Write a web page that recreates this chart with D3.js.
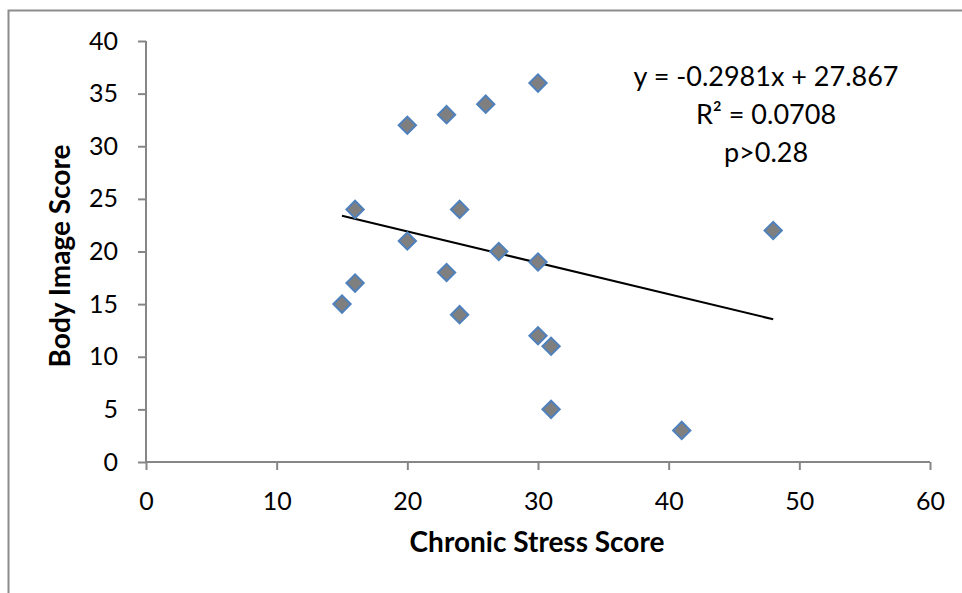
<!DOCTYPE html>
<html>
<head>
<meta charset="utf-8">
<script src="https://cdn.jsdelivr.net/npm/d3@7"></script>
<style>
  body { margin: 0; background: #fff; }
  svg text { font-family: Lato, "Open Sans", sans-serif; fill: #000; }
  .axis line { stroke: #868686; stroke-width: 2; }
  .axis text { font-size: 25px; }
</style>
</head>
<body>
<div id="chart"></div>
<script>
(function() {
  // data
  var stressScores = [15, 16, 16, 20, 20, 23, 23, 24, 24, 26, 27, 30, 30, 30, 31, 31, 41, 48]
  var bodyScores   = [15, 24, 17, 32, 21, 33, 18, 24, 14, 34, 20, 36, 19, 12, 11, 5, 3, 22]
  var xTicks = [0, 10, 20, 30, 40, 50, 60]
  var yTicks = [0, 5, 10, 15, 20, 25, 30, 35, 40]
  var slope = -0.2981, intercept = 27.867
  var fitLabels = ["y = -0.2981x + 27.867", "R\u00b2 = 0.0708", "p>0.28"]

  var datapoints = stressScores.map(function(s, i) { return {x: s, y: bodyScores[i]} })

  var margin = {top: 41, right: 32, bottom: 131, left: 146}
  var width = 962 - margin.left - margin.right,
      height = 593 - margin.top - margin.bottom

  var svg = d3.select("#chart")
      .append("svg")
      .attr("width", 962)
      .attr("height", 593)

  // outer chart border (left + top visible)
  svg.append("path")
    .attr("d", "M8.5,593V10.5H962")
    .attr("fill", "none")
    .attr("stroke", "#8c8c8c")
    .attr("stroke-width", 2)

  var g = svg.append("g")
      .attr("transform", "translate(" + margin.left + "," + margin.top + ")")

  var xPositionScale = d3.scaleLinear().domain([0, 60]).range([0, width])
  var yPositionScale = d3.scaleLinear().domain([0, 40]).range([height, 0])

  var xAxis = d3.axisBottom(xPositionScale).tickValues(xTicks).tickSize(8).tickPadding(22)
  var yAxis = d3.axisLeft(yPositionScale).tickValues(yTicks).tickSize(8).tickPadding(20)

  g.append("g")
    .attr("class", "axis y-axis")
    .call(yAxis)
  g.append("g")
    .attr("class", "axis x-axis")
    .attr("transform", "translate(0," + height + ")")
    .call(xAxis)
  g.selectAll(".axis .domain").remove()
  g.append("line")
    .attr("x1", 0).attr("x2", 0).attr("y1", 0).attr("y2", height)
    .attr("stroke", "#868686").attr("stroke-width", 2)
  g.append("line")
    .attr("x1", 0).attr("x2", width).attr("y1", height).attr("y2", height)
    .attr("stroke", "#868686").attr("stroke-width", 2)

  // trend line across the data range
  var xMin = d3.min(stressScores), xMax = d3.max(stressScores)
  g.append("line")
    .attr("x1", xPositionScale(xMin))
    .attr("y1", yPositionScale(slope * xMin + intercept))
    .attr("x2", xPositionScale(xMax))
    .attr("y2", yPositionScale(slope * xMax + intercept))
    .attr("stroke", "#000")
    .attr("stroke-width", 2)

  var diamond = d3.symbol().type(d3.symbolSquare).size(150)
  g.selectAll(".pt")
    .data(datapoints)
    .enter().append("path")
    .attr("class", "pt")
    .attr("d", diamond)
    .attr("transform", d => "translate(" + xPositionScale(d.x) + "," + yPositionScale(d.y) + ") rotate(45)")
    .attr("fill", "#7f7f7f")
    .attr("stroke", "#4f81bd")
    .attr("stroke-width", 2)

  // regression labels
  g.selectAll(".fit")
    .data(fitLabels)
    .enter().append("text")
    .attr("class", "fit")
    .attr("x", 620)
    .attr("y", (d, i) => 45 + i * 38)
    .attr("text-anchor", "middle")
    .style("font-size", "27px")
    .text(d => d)

  svg.append("text")
    .attr("x", 537)
    .attr("y", 552)
    .attr("text-anchor", "middle")
    .style("font-size", "28px")
    .style("font-weight", "bold")
    .text("Chronic Stress Score")

  svg.append("text")
    .attr("transform", "translate(70,256) rotate(-90)")
    .attr("text-anchor", "middle")
    .style("font-size", "28px")
    .style("font-weight", "bold")
    .text("Body Image Score")
})()
</script>
</body>
</html>
